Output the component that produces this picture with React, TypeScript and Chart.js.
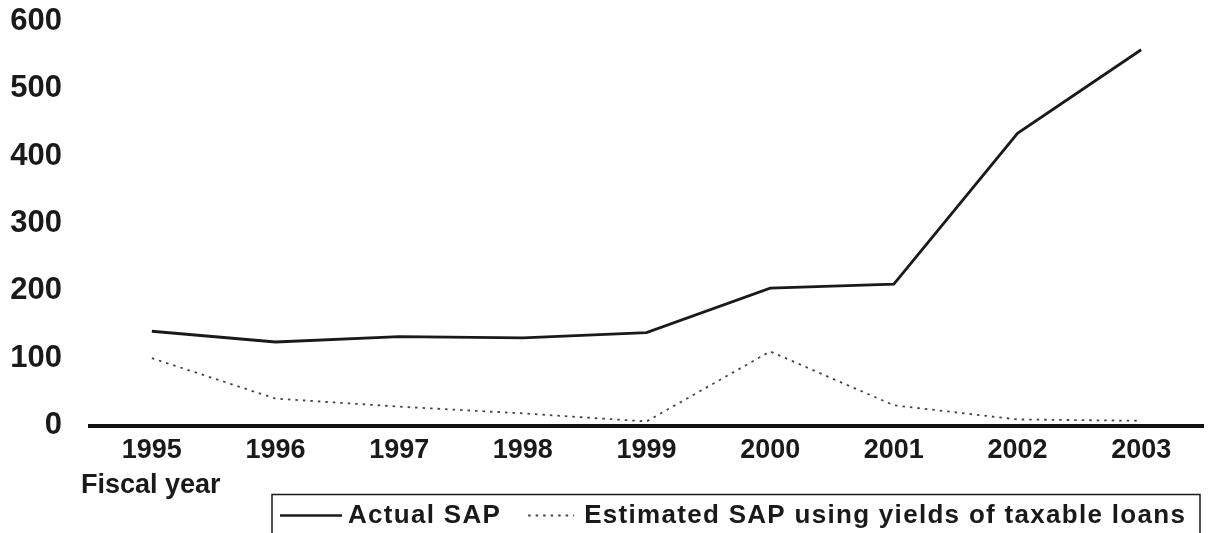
import React, { useEffect, useRef } from "react";
import { Chart, registerables } from "chart.js";

Chart.register(...registerables);

const fiscalYears = ["1995", "1996", "1997", "1998", "1999", "2000", "2001", "2002", "2003"];
const actualSap = [140, 124, 132, 130, 138, 204, 210, 434, 558];
const estimatedSap = [100, 40, 28, 18, 6, 110, 30, 9, 7];
const yTicks = [0, 100, 200, 300, 400, 500, 600];
const seriesNames = ["Actual SAP", "Estimated SAP using yields of taxable loans"];
const xAxisTitle = "Fiscal year";

const FONT = "'Liberation Sans', Arial, sans-serif";

const extrasPlugin = {
  id: "extras",
  afterDraw(chart: any) {
    const ctx = chart.ctx as CanvasRenderingContext2D;
    ctx.save();
    // axis title
    ctx.font = `bold 27px ${FONT}`;
    ctx.fillStyle = "#1a1a1a";
    ctx.textAlign = "left";
    ctx.textBaseline = "middle";
    ctx.fillText(xAxisTitle, 81, 486);

    // legend box
    const boxLeft = 272;
    const boxTop = 494.5;
    const boxRight = 1200;
    ctx.strokeStyle = "#1a1a1a";
    ctx.lineWidth = 1.5;
    ctx.strokeRect(boxLeft, boxTop, boxRight - boxLeft, 60);

    const ly = 515.5;
    const ds = chart.data.datasets;
    (ctx as any).letterSpacing = "1.3px";
    ctx.font = `bold 26px ${FONT}`;
    let x = boxLeft + 8;
    // item 1
    ctx.beginPath();
    ctx.setLineDash([]);
    ctx.strokeStyle = ds[0].borderColor;
    ctx.lineWidth = 2.5;
    ctx.moveTo(x, ly);
    ctx.lineTo(x + 62, ly);
    ctx.stroke();
    x += 68;
    ctx.fillStyle = "#1a1a1a";
    ctx.textBaseline = "middle";
    ctx.fillText(ds[0].label, x, ly);
    x += ctx.measureText(ds[0].label).width + 27;
    // item 2
    ctx.beginPath();
    ctx.setLineDash(ds[1].borderDash);
    ctx.strokeStyle = ds[1].borderColor;
    ctx.lineWidth = 1.8;
    ctx.moveTo(x, ly);
    ctx.lineTo(x + 46, ly);
    ctx.stroke();
    ctx.setLineDash([]);
    x += 56;
    ctx.fillText(ds[1].label, x, ly);
    ctx.restore();
  },
};

export default function App() {
  const canvasRef = useRef<HTMLCanvasElement | null>(null);

  useEffect(() => {
    if (!canvasRef.current) return;
    const chart = new Chart(canvasRef.current, {
      type: "line",
      data: {
        labels: fiscalYears,
        datasets: [
          {
            label: seriesNames[0],
            data: actualSap,
            borderColor: "#1a1a1a",
            borderWidth: 2.8,
            pointRadius: 0,
            tension: 0,
            fill: false,
          },
          {
            label: seriesNames[1],
            data: estimatedSap,
            borderColor: "#444444",
            borderWidth: 1.8,
            borderDash: [2.5, 5],
            pointRadius: 0,
            tension: 0,
            fill: false,
          },
        ],
      },
      options: {
        animation: false,
        responsive: true,
        maintainAspectRatio: false,
        layout: { padding: { top: 21.5, right: 5, left: 0, bottom: 0 } },
        plugins: {
          legend: { display: false },
          tooltip: { enabled: false },
          title: { display: false },
        },
        scales: {
          x: {
            type: "category",
            offset: true,
            grid: { display: false, drawTicks: false },
            border: { display: true, color: "#111111", width: 4 },
            ticks: {
              color: "#1a1a1a",
              font: { family: FONT, size: 27, weight: "bold" },
              padding: 9,
              maxRotation: 0,
              autoSkip: false,
            },
            afterFit(scale: any) {
              scale.height = 107.5;
              scale.paddingLeft = 0;
              scale.paddingRight = 0;
            },
          },
          y: {
            min: 0,
            max: 600,
            afterBuildTicks(scale: any) {
              scale.ticks = yTicks.map((v) => ({ value: v }));
            },
            grid: { display: false, drawTicks: false },
            border: { display: false },
            ticks: {
              color: "#1a1a1a",
              font: { family: FONT, size: 31, weight: "bold" },
              padding: 28,
            },
            afterFit(scale: any) {
              scale.width = 90;
              scale.paddingTop = 0;
              scale.paddingBottom = 0;
            },
          },
        },
      },
      plugins: [extrasPlugin],
    });
    return () => chart.destroy();
  }, []);

  return (
    <div style={{ position: "fixed", left: 0, top: 0, width: 1208, height: 533, background: "#ffffff" }}>
      <canvas ref={canvasRef} />
    </div>
  );
}
